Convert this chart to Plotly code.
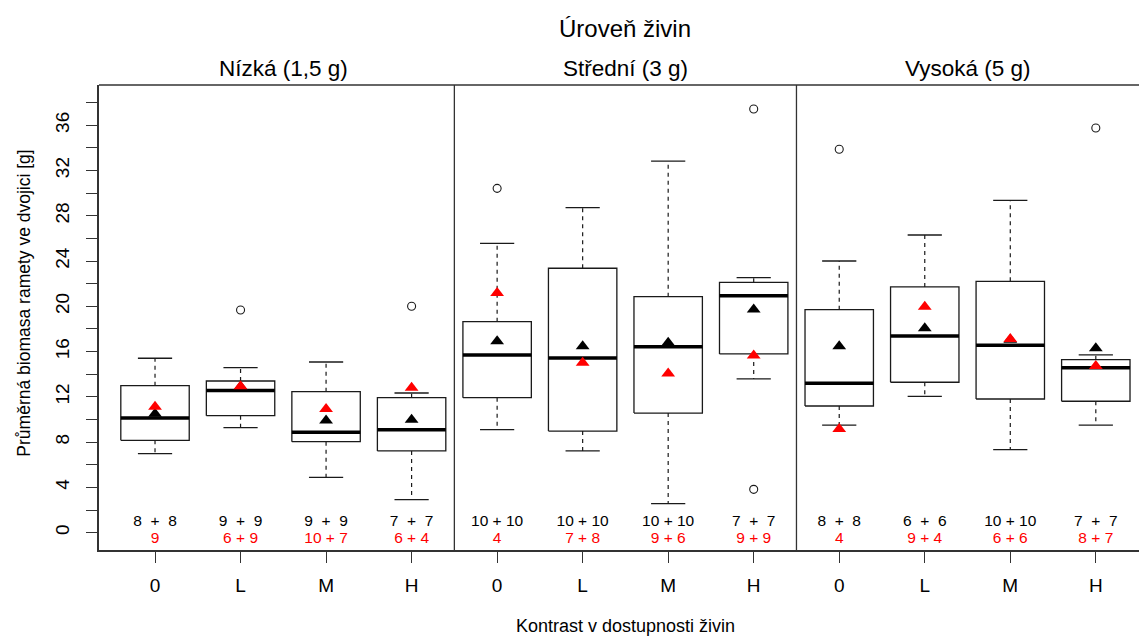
import plotly.graph_objects as go

# ---------------- data ----------------
groups = ["0", "L", "M", "H"] * 3
levels = ["Nízká (1,5 g)", "Střední (3 g)", "Vysoká (5 g)"]

lower_whisker = [6.98, 9.28, 4.89, 2.92, 9.10, 7.22, 2.56, 13.58, 9.51, 12.05, 7.33, 9.51]
q1 = [8.16, 10.34, 8.04, 7.22, 11.93, 8.98, 10.57, 15.79, 11.19, 13.29, 11.81, 11.61]
median = [10.13, 12.55, 8.87, 9.10, 15.70, 15.43, 16.43, 20.94, 13.20, 17.38, 16.55, 14.58]
q3 = [12.99, 13.40, 12.46, 11.93, 18.64, 23.36, 20.85, 22.12, 19.70, 21.71, 22.21, 15.28]
upper_whisker = [15.41, 14.58, 15.08, 12.34, 25.56, 28.71, 32.83, 22.53, 24.00, 26.30, 29.36, 15.70]
outliers = [[], [19.67], [], [20.0], [30.42], [], [], [37.43, 3.83], [33.87], [], [], [35.75]]
mean_black = [10.5, 12.9, 9.9, 9.98, 16.91, 16.46, 16.79, 19.71, 16.46, 18.05, 17.05, 16.29]
mean_red = [11.13, 12.94, 10.93, 12.81, 21.18, 15.02, 14.06, 15.65, 9.16, 19.97, 17.11, 14.73]
n_black = ["8  +  8", "9  +  9", "9  +  9", "7  +  7", "10 + 10", "10 + 10",
           "10 + 10", "7  +  7", "8  +  8", "6  +  6", "10 + 10", "7  +  7"]
n_red = ["9", "6 + 9", "10 + 7", "6 + 4", "4", "7 + 8", "9 + 6", "9 + 9",
         "4", "9 + 4", "6 + 6", "8 + 7"]
y_ticks = list(range(0, 39, 2))

# ---------------- styling ----------------
FONT = "Liberation Sans, Arial, sans-serif"
INK = "#1a1a1a"
FRAME = "#333333"
BOX_HW = 0.4
CAP_HW = 0.2
ROW_BLACK_Y = 0.92
ROW_RED_Y = -0.56

xs = list(range(1, len(groups) + 1))

box_x, box_y = [], []
med_x, med_y = [], []
wh_x, wh_y = [], []
cap_x, cap_y = [], []
out_x, out_y = [], []
for i, x in enumerate(xs):
    box_x += [x - BOX_HW, x + BOX_HW, x + BOX_HW, x - BOX_HW, x - BOX_HW, None]
    box_y += [q1[i], q1[i], q3[i], q3[i], q1[i], None]
    med_x += [x - BOX_HW, x + BOX_HW, None]
    med_y += [median[i], median[i], None]
    wh_x += [x, x, None, x, x, None]
    wh_y += [q3[i], upper_whisker[i], None, q1[i], lower_whisker[i], None]
    cap_x += [x - CAP_HW, x + CAP_HW, None, x - CAP_HW, x + CAP_HW, None]
    cap_y += [upper_whisker[i], upper_whisker[i], None, lower_whisker[i], lower_whisker[i], None]
    for o in outliers[i]:
        out_x.append(x)
        out_y.append(o)

fig = go.Figure()
fig.add_trace(go.Scatter(x=wh_x, y=wh_y, mode="lines",
                         line=dict(color=INK, width=1.2, dash="4px,4px"), hoverinfo="skip"))
fig.add_trace(go.Scatter(x=cap_x, y=cap_y, mode="lines",
                         line=dict(color=INK, width=1.3), hoverinfo="skip"))
fig.add_trace(go.Scatter(x=box_x, y=box_y, mode="lines", fill="toself", fillcolor="white",
                         line=dict(color=INK, width=1.3), hoverinfo="skip"))
fig.add_trace(go.Scatter(x=med_x, y=med_y, mode="lines",
                         line=dict(color="black", width=3.5), hoverinfo="skip"))
fig.add_trace(go.Scatter(x=out_x, y=out_y, mode="markers",
                         marker=dict(symbol="circle-open", size=8, color=INK, line=dict(width=1.1))))
fig.add_trace(go.Scatter(x=xs, y=mean_black, mode="markers",
                         marker=dict(symbol="triangle-up", size=12, color="black")))
fig.add_trace(go.Scatter(x=xs, y=mean_red, mode="markers",
                         marker=dict(symbol="triangle-up", size=12, color="#ff0000")))
fig.add_trace(go.Scatter(x=xs, y=[ROW_BLACK_Y] * len(xs), mode="text",
                         text=[t.replace(" ", "\u00a0") for t in n_black],
                         textfont=dict(family=FONT, size=15.5, color="black"), textposition="middle center"))
fig.add_trace(go.Scatter(x=xs, y=[ROW_RED_Y] * len(xs), mode="text",
                         text=[t.replace(" ", "\u00a0") for t in n_red],
                         textfont=dict(family=FONT, size=15.5, color="#ff0000"), textposition="middle center"))

shapes = []
for b in [4.5, 8.5]:
    shapes.append(dict(type="line", xref="x", yref="paper", x0=b, x1=b, y0=0, y1=1,
                       line=dict(color=FRAME, width=1.3)))
shapes.append(dict(type="line", xref="paper", yref="paper", x0=0, x1=1, y0=1, y1=1,
                   line=dict(color=FRAME, width=1.5)))

annotations = [
    dict(text="Úroveň živin", x=6.5, xref="x", y=1.122, yref="paper", showarrow=False,
         font=dict(family=FONT, size=24, color="black"), xanchor="center", yanchor="middle"),
    dict(text="Kontrast v dostupnosti živin", x=6.5, xref="x", y=-0.19, yref="paper", showarrow=False,
         font=dict(family=FONT, size=18, color="black"), xanchor="center", yanchor="bottom"),
    dict(text="Průměrná biomasa ramety ve dvojici [g]", x=-0.073, xref="paper", y=0.53, yref="paper",
         showarrow=False, textangle=-90,
         font=dict(family=FONT, size=17.5, color="black"), xanchor="center", yanchor="middle"),
]
for k, lev in enumerate(levels):
    annotations.append(dict(text=lev, x=2.5 + 4 * k, xref="x", y=1.036, yref="paper", showarrow=False,
                            font=dict(family=FONT, size=22.5, color="black"),
                            xanchor="center", yanchor="middle"))

fig.update_layout(
    width=1139, height=639,
    margin=dict(l=99, r=0, t=85, b=89),
    paper_bgcolor="white", plot_bgcolor="white",
    showlegend=False,
    font=dict(family=FONT, color="black"),
    shapes=shapes, annotations=annotations,
    xaxis=dict(range=[0.345, 12.505], tickvals=xs, ticktext=groups,
               showgrid=False, zeroline=False, showline=True, linecolor=FRAME, linewidth=1.5,
               ticks="outside", ticklen=11, tickcolor=FRAME, tickwidth=1.2,
               tickfont=dict(family=FONT, size=19, color="black"), ticklabelstandoff=6),
    yaxis=dict(range=[-1.53, 39.55], tickvals=y_ticks,
               ticktext=[str(v) if v % 4 == 0 else "" for v in y_ticks],
               tickangle=-90, showgrid=False, zeroline=False, showline=True, linecolor=FRAME,
               linewidth=1.5, ticks="outside", ticklen=11, tickcolor=FRAME, tickwidth=1.2,
               tickfont=dict(family=FONT, size=19, color="black"), ticklabelstandoff=10),
)

fig.write_html("out.html")
